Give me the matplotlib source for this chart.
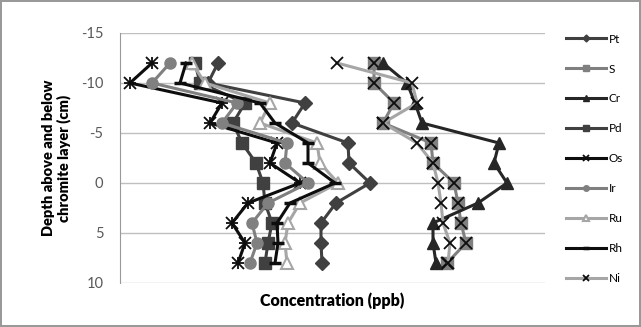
import numpy as np
import matplotlib.pyplot as plt

plt.rcParams['font.family'] = ['Lato', 'DejaVu Sans']
plt.rcParams['axes.unicode_minus'] = False

depth = [-12, -10, -8, -6, -4, -2, 0, 2, 4, 6, 8]

# concentrations (arbitrary units, x axis has no tick labels)
pt = [98, 88, 185, 172, 228, 229, 250, 216, 201, 201, 202]
s = [254, 254, 274, 263, 311, 313, 334, 338, 341, 346, 327]
cr = [263, 287, 295, 302, 379, 374, 387, 358, 313, 313, 316]
pd_ = [75, 80, 125, 113, 122, 136, 143, 145, 152, 148, 145]
os_ = [32, 10, 102, 90, 157, 150, 180, 128, 112, 125, 118]
ir = [50, 32, 117, 102, 167, 165, 188, 148, 132, 137, 130]
ru = [72, 85, 150, 140, 197, 200, 218, 180, 168, 165, 167]
rh = [66, 60, 140, 155, 188, 188, 215, 170, 157, 158, 155]
ni = [217, 292, 297, 263, 297, 313, 318, 321, 323, 330, 328]

names = ['Pt', 'S', 'Cr', 'Pd', 'Os', 'Ir', 'Ru', 'Rh', 'Ni']
values = [pt, s, cr, pd_, os_, ir, ru, rh, ni]

styles = {
    'Pt': dict(color='#404040', marker='D', ms=7, mfc='#404040', mec='#404040'),
    'S': dict(color='#808080', marker='s', ms=8, mfc='#808080', mec='#808080'),
    'Cr': dict(color='#262626', marker='^', ms=8, mfc='#262626', mec='#262626'),
    'Pd': dict(color='#404040', marker='s', ms=8, mfc='#404040', mec='#404040'),
    'Os': dict(color='#0d0d0d', marker='x', ms=9, mfc='none', mec='#0d0d0d', mew=1.3),
    'Ir': dict(color='#808080', marker='o', ms=8, mfc='#808080', mec='#808080'),
    'Ru': dict(color='#a6a6a6', marker='^', ms=8, mfc='white', mec='#a6a6a6', mew=1.5),
    'Rh': dict(color='#0d0d0d', marker='_', ms=9, mec='#0d0d0d', mew=2.5),
    'Ni': dict(color='#a6a6a6', marker='x', ms=9, mec='#0d0d0d', mew=1.3),
}

fig = plt.figure(figsize=(6.41, 3.27), dpi=100)
fig.patch.set_edgecolor('#999999')
fig.patch.set_linewidth(1.5)
ax = fig.add_axes([120 / 641, 1 - 283 / 327, 425 / 641, 250 / 327])

for name, vals in zip(names, values):
    st = styles[name]
    ax.plot(vals, depth, lw=2.2, label=name, **st)
    # S squares carry an x on top, Os uses a star
    if name == 'S':
        ax.plot(vals, depth, ls='none', marker='x', ms=8, mec='#0d0d0d', mew=1.3)
    if name == 'Os':
        ax.plot(vals, depth, ls='none', marker='+', ms=9, mec='#0d0d0d', mew=1.3)

ax.set_xlim(0, 425)
ax.set_ylim(10, -15)
ax.set_yticks([-15, -10, -5, 0, 5, 10])
ax.set_xticks([])
ax.tick_params(axis='y', length=0, labelsize=10.5, colors='#595959', pad=12)
ax.grid(axis='y', color='#bfbfbf', lw=1)
ax.set_axisbelow(True)
for sp in ['top', 'right', 'bottom']:
    ax.spines[sp].set_visible(False)
ax.spines['left'].set_color('#999999')

ax.set_xlabel('Concentration (ppb)', fontsize=11.5, fontweight='heavy', labelpad=7)
ax.set_ylabel('Depth above and below\nchromite layer (cm)', fontsize=10.5,
              fontweight='heavy', labelpad=7, linespacing=1.15)

leg = ax.legend(loc='upper left', bbox_to_anchor=(1.025, 1.04), frameon=False,
                fontsize=8.5, markerscale=0.5, handlelength=3.4,
                labelspacing=1.6, handletextpad=0.2)

fig.savefig('out.png', dpi=100)
